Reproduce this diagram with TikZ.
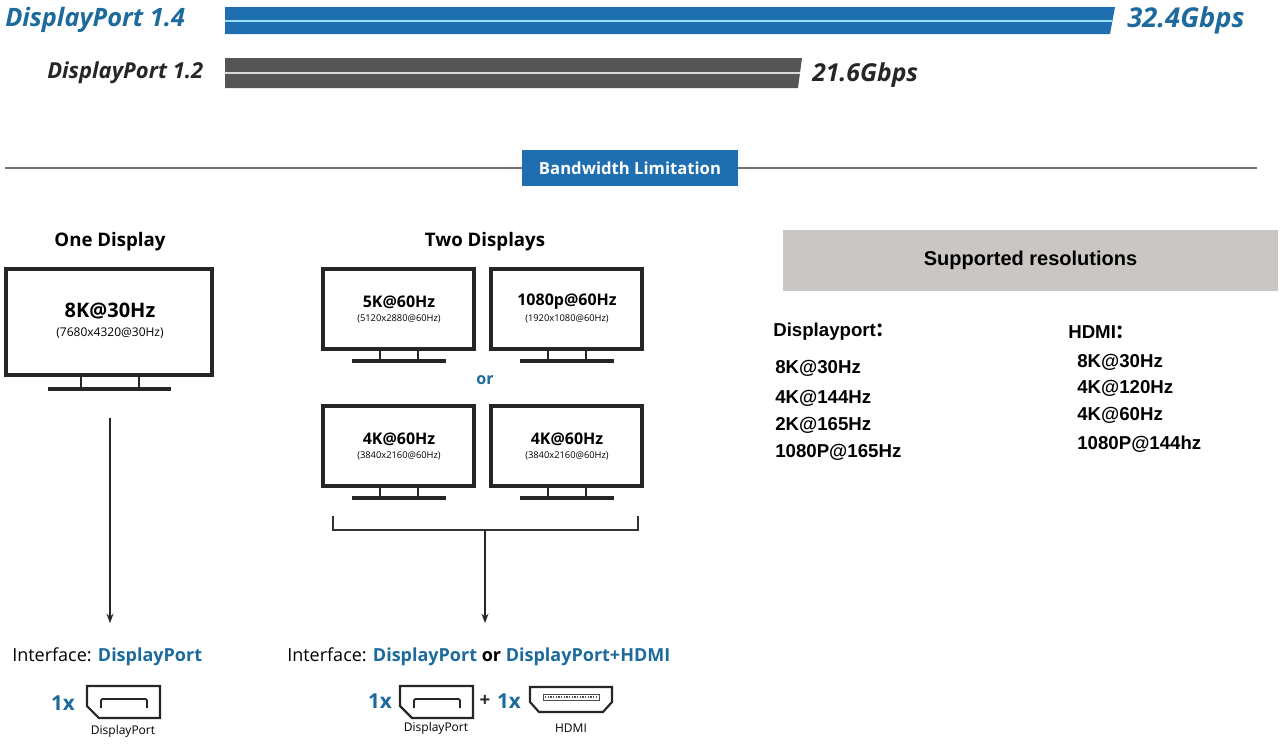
\documentclass[tikz,border=0pt]{standalone}
\usepackage{fontspec}
\setmainfont{Open Sans}
\newfontfamily\arialfont{Liberation Sans}
\newfontfamily\cjk{Noto Sans CJK SC}
\usetikzlibrary{arrows.meta,calc,positioning}
\definecolor{dpblue}{HTML}{1F6FB0}
\definecolor{dptext}{HTML}{1D6A9C}
\definecolor{bargray}{HTML}{555555}
\definecolor{boxgray}{HTML}{C9C6C3}
\tikzstyle{bartitle} = [font={\fontsize{19}{22}\selectfont\bfseries\itshape}, inner sep=0pt]
\tikzstyle{heading} = [font={\fontsize{14}{16}\selectfont\bfseries}, inner sep=0pt]
\tikzstyle{reslabel} = [font={\fontsize{12}{14}\selectfont\bfseries}, inner sep=0pt]
\tikzstyle{subres} = [font={\fontsize{7}{8}\selectfont}, inner sep=0pt]
\tikzstyle{listtext} = [font={\arialfont\fontsize{14}{16}\selectfont\bfseries}, inner sep=0pt, anchor=west]
\tikzstyle{iface} = [font={\fontsize{13.5}{15}\selectfont}, inner sep=0pt, anchor=west]
\tikzstyle{portlabel} = [font={\fontsize{9}{10}\selectfont}, inner sep=0pt]
\tikzstyle{screen} = [draw=black!85, line width=2.6pt]
\tikzset{font={\small}}

\begin{document}
\begin{tikzpicture}[x=0.75pt, y=-0.75pt]
  \useasboundingbox (0,0) rectangle (1280,746);

  % bandwidth bars
  \fill[dpblue] (225,7) -- (1115,7) -- (1110,34) -- (225,34) -- cycle;
  \draw[cyan!40, line width=1.5pt] (225,20.5) -- (1112,20.5);
  \fill[bargray] (225,58) -- (802,58) -- (798,88) -- (225,88) -- cycle;
  \draw[white!85!black, line width=1.5pt] (225,73) -- (800,73);
  \node[bartitle, text=dptext, anchor=west] (dp14) at (5,20) {DisplayPort 1.4};
  \node[bartitle, text=dptext, anchor=west, font={\fontsize{20.5}{23}\selectfont\bfseries\itshape}] (bw14) at (1127,20) {32.4Gbps};
  \node[bartitle, text=black!85, anchor=west, font={\fontsize{16.5}{19}\selectfont\bfseries\itshape}] (dp12) at (47,73) {DisplayPort 1.2};
  \node[bartitle, text=black!85, anchor=west, font={\fontsize{18.5}{21}\selectfont\bfseries\itshape}] (bw12) at (812,75) {21.6Gbps};

  % separator
  \draw[black!55, line width=0.8pt] (5,168) -- (1257,168);
  \node[fill=dpblue, text=white, minimum width=216*0.75pt, minimum height=36*0.75pt, inner sep=0pt,
        font={\fontsize{12.5}{14}\selectfont\bfseries}] (limit) at (630,168) {Bandwidth Limitation};

  % one display
  \node[heading] (one) at (110,242) {One Display};
  \draw[screen] (6,269) rectangle (212,375);
  \draw[black!85, line width=1.6pt] (81,376) -- (81,388) (139,376) -- (139,388);
  \draw[black!85, line width=2.6pt] (48,389) -- (171,389);
  \node[heading, font={\fontsize{15}{17}\selectfont\bfseries}] (m8k) at (110,311) {8K@30Hz};
  \node[subres, font={\fontsize{9}{10}\selectfont}] (m8ks) at (110,333) {(7680x4320@30Hz)};

  % two displays
  \node[heading] (two) at (485,242) {Two Displays};
  \foreach \x/\y/\restop/\resbot/\nm in {322/268/5K@60Hz/(5120x2880@60Hz)/a,
      490/268/1080p@60Hz/(1920x1080@60Hz)/b,
      322/405/4K@60Hz/(3840x2160@60Hz)/c,
      490/405/4K@60Hz/(3840x2160@60Hz)/d} {
    \draw[screen] (\x+1,\y+1) rectangle (\x+152,\y+81);
    \draw[black!85, line width=1.4pt] (\x+58,\y+82) -- (\x+58,\y+92) (\x+96,\y+82) -- (\x+96,\y+92);
    \draw[black!85, line width=2.4pt] (\x+30,\y+93) -- (\x+124,\y+93);
    \node[reslabel] (big\nm) at (\x+77,\y+34) {\restop};
    \node[subres] (small\nm) at (\x+77,\y+51) {\resbot};
  }
  \node[reslabel, text=dptext] (or) at (485,380) {or};

  % bracket and arrows
  \draw[black!80, line width=0.8pt] (333,516) -- (333,530) -- (638,530) -- (638,516);
  \coordinate (brk) at (485,530);
  \coordinate (onebase) at (110,418);
  \coordinate (oneend) at (110,623);
  \coordinate (twoend) at (485,623);
  \draw[-{Stealth[length=7pt]}, black!85, line width=0.8pt] (onebase) -- (oneend);
  \draw[-{Stealth[length=7pt]}, black!85, line width=0.8pt] (brk) -- (twoend);

  % interfaces
  \node[iface] (if1) at (12,657) {Interface: \textcolor{dptext}{\bfseries DisplayPort}};
  \node[iface] (if2) at (287,657) {Interface: \textcolor{dptext}{\bfseries DisplayPort} \textbf{or} \textcolor{dptext}{\bfseries DisplayPort+HDMI}};

  % port icons
  \foreach \x/\nm in {87/p1, 400/p2} {
    \draw[black!85, line width=1.6pt] (\x,686) -- (\x+73,686) -- (\x+73,718) -- (\x+12,718) -- (\x,706) -- cycle;
    \draw[black!85, line width=1.4pt, rounded corners=1pt] (\x+14,708) -- (\x+14,699) -- (\x+60,699) -- (\x+60,708);
  }
  \node[heading, text=dptext, font={\fontsize{15.5}{17}\selectfont\bfseries}] (x1a) at (63,703) {1x};
  \node[portlabel] (lp1) at (123,731) {DisplayPort};
  \node[heading, text=dptext, font={\fontsize{15.5}{17}\selectfont\bfseries}] (x1b) at (380,701) {1x};
  \node[portlabel] (lp2) at (436,728) {DisplayPort};
  \node[heading, text=black!85] (plus) at (485,701) {+};
  \node[heading, text=dptext, font={\fontsize{15.5}{17}\selectfont\bfseries}] (x1c) at (509,701) {1x};
  \draw[black!85, line width=1.6pt] (530,687) -- (612,687) -- (612,702) -- (603,712) -- (539,712) -- (530,702) -- cycle;
  \draw[black!70, line width=0.6pt] (543,694) rectangle (599,700);
  \draw[black!70, line width=1pt, dash pattern=on 1pt off 1pt] (545,697) -- (597,697);
  \node[portlabel] (lhdmi) at (571,728) {HDMI};

  % supported resolutions
  \node[fill=boxgray, minimum width=495*0.75pt, minimum height=61*0.75pt, inner sep=0pt,
        font={\arialfont\fontsize{15}{17}\selectfont\bfseries}] (sup) at (1030.5,260.5) {Supported resolutions};
  \node[listtext] (dphead) at (773,332) {Displayport{\cjk ：}};
  \node[listtext] (hdhead) at (1068,332) {HDMI{\cjk ：}};
  \foreach \y/\t in {368/8K@30Hz, 398/4K@144Hz, 425/2K@165Hz, 452/1080P@165Hz}
    \node[listtext] at (775,\y) {\t};
  \foreach \y/\t in {362/8K@30Hz, 388/4K@120Hz, 415/4K@60Hz, 444/1080P@144hz}
    \node[listtext] at (1077,\y) {\t};

\end{tikzpicture}
\end{document}
